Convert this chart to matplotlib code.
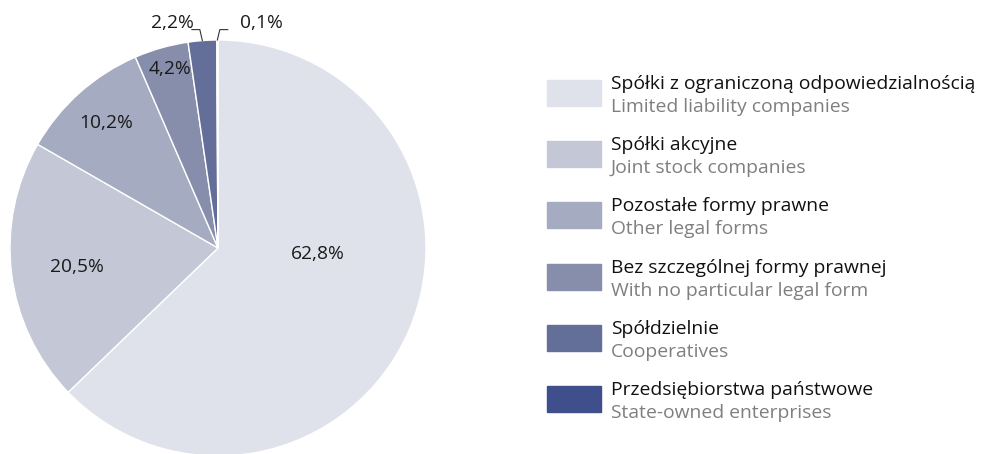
import numpy as np
import matplotlib
matplotlib.use('Agg')
import matplotlib.pyplot as plt
from matplotlib.patches import Rectangle

plt.rcParams['font.family'] = ['Open Sans', 'DejaVu Sans']

shares = [62.8, 20.5, 10.2, 4.2, 2.2, 0.1]
pct_labels = ['62,8%', '20,5%', '10,2%', '4,2%', '2,2%', '0,1%']
names_pl = ['Spółki z ograniczoną odpowiedzialnością', 'Spółki akcyjne',
            'Pozostałe formy prawne', 'Bez szczególnej formy prawnej',
            'Spółdzielnie', 'Przedsiębiorstwa państwowe']
names_en = ['Limited liability companies', 'Joint stock companies',
            'Other legal forms', 'With no particular legal form',
            'Cooperatives', 'State-owned enterprises']
colors = ['#dfe2ea', '#c3c7d6', '#a5abc0', '#868eab', '#646f99', '#3e4f8b']

# label spots inside the pie (pie radius = 1)
label_pos = [(0.48, -0.03), (-0.68, -0.09), (-0.54, 0.60), (-0.23, 0.86),
             (-0.22, 1.08), (0.21, 1.08)]

W, H = 981, 454
fig = plt.figure(figsize=(W / 100, H / 100), dpi=100)
ax = fig.add_axes([10 / W, -2 / H, 416 / W, 416 / H])
wedges, _ = ax.pie(shares, colors=colors, startangle=90, counterclock=False,
                   radius=1, wedgeprops=dict(edgecolor='white', linewidth=1))
ax.set_xlim(-1, 1)
ax.set_ylim(-1, 1)
ax.axis('off')

for (x, y), t in zip(label_pos, pct_labels):
    ax.text(x, y, t, ha='center', va='center', fontsize=13.8, color='#1a1a1a',
            clip_on=False)

# leader lines for the two thin slices
for i, side in [(4, -1), (5, 1)]:
    w = wedges[i]
    th = np.deg2rad((w.theta1 + w.theta2) / 2)
    x0, y0 = np.cos(th), np.sin(th)
    xs = [x0, x0 + side * 0.012, x0 + side * 0.05]
    ys = [y0, 1.05, 1.05]
    ax.plot(xs, ys, color='#333333', lw=0.8, clip_on=False)

# legend
top = 80
step = 61.2
for i in range(len(shares)):
    yt = top + i * step
    fig.patches.append(Rectangle((547 / W, 1 - (yt + 26) / H), 54 / W, 26 / H,
                                 transform=fig.transFigure, color=colors[i]))
    fig.text(611 / W, 1 - (yt + 9) / H, names_pl[i], fontsize=13.9,
             color='#111111', va='baseline', ha='left')
    fig.text(611 / W, 1 - (yt + 32) / H, names_en[i], fontsize=13.9,
             color='#7f7f7f', va='baseline', ha='left')

fig.savefig('out.png', dpi=100)
